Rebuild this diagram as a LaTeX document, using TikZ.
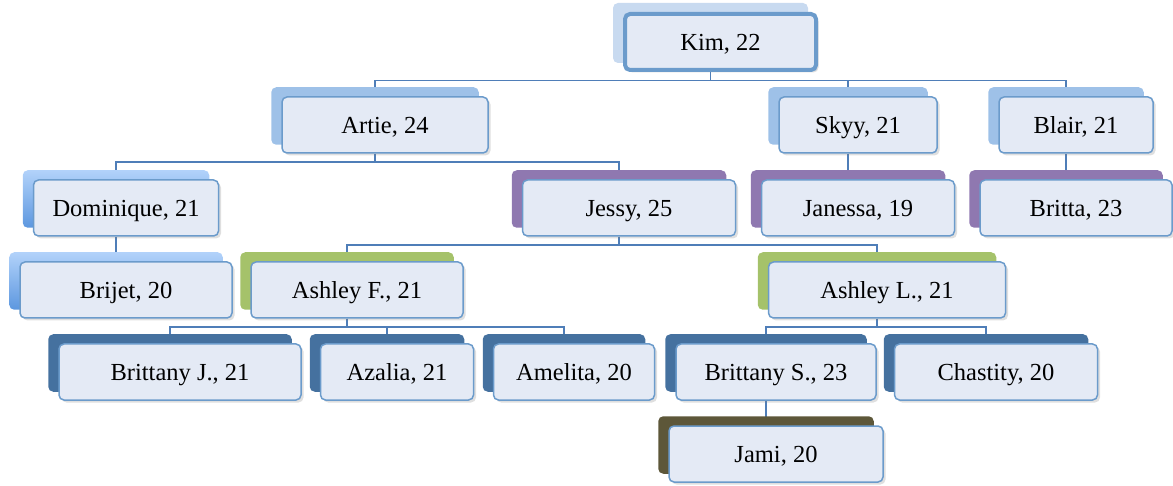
\documentclass[tikz,border=0pt]{standalone}
\usepackage{fontspec}
\setmainfont{Liberation Serif}
\usetikzlibrary{positioning, shadows, backgrounds}
\definecolor{boxfill}{HTML}{E4EAF5}
\definecolor{boxline}{HTML}{6B9BCB}
\definecolor{connline}{HTML}{4F7EB8}
\definecolor{kimback}{HTML}{C8DAF0}
\definecolor{lvlone}{HTML}{9EC1E8}
\definecolor{domtop}{HTML}{B2D2FA}
\definecolor{dombottom}{HTML}{5C97DF}
\definecolor{lvlpurple}{HTML}{8F78B0}
\definecolor{lvlgreen}{HTML}{A5C26A}
\definecolor{lvldark}{HTML}{45719F}
\definecolor{lvlolive}{HTML}{5D5739}
\tikzset{
    person/.style={
        draw=boxline, line width=1.5pt,
        fill=boxfill,
        rounded corners=5pt,
        minimum height=56pt,
        inner sep=0pt,
        text height=18pt, text depth=1.8pt,
        font=\fontsize{24.5}{29}\selectfont,
        drop shadow={opacity=0.25, shadow xshift=2.5pt, shadow yshift=-2.5pt}
    },
    root/.style={
        person,
        line width=4pt
    },
    conn/.style={
        draw=connline, line width=1.5pt
    },
    back/.style={rounded corners=5pt},
}
\begin{document}
\begin{tikzpicture}[x=1pt, y=-1pt]
        \useasboundingbox (0,0) rectangle (1173,486);
        \node[root, minimum width=191] (kim) at (720.5,42) {Kim, 22};
        \node[person, minimum width=206] (artie) at (385,125) {Artie, 24};
        \node[person, minimum width=158] (skyy) at (858,125) {Skyy, 21};
        \node[person, minimum width=154] (blair) at (1076,125) {Blair, 21};
        \node[person, minimum width=185] (dominique) at (126,208) {Dominique, 21};
        \node[person, minimum width=213] (jessy) at (629,208) {Jessy, 25};
        \node[person, minimum width=193] (janessa) at (858,208) {Janessa, 19};
        \node[person, minimum width=192] (britta) at (1076,208) {Britta, 23};
        \node[person, minimum width=212] (brijet) at (126,290) {Brijet, 20};
        \node[person, minimum width=212] (ashleyf) at (357,290) {Ashley F., 21};
        \node[person, minimum width=237] (ashleyl) at (887,290) {Ashley L., 21};
        \node[person, minimum width=242] (brittanyj) at (180,372) {Brittany J., 21};
        \node[person, minimum width=153] (azalia) at (397,372) {Azalia, 21};
        \node[person, minimum width=161] (amelita) at (574,372) {Amelita, 20};
        \node[person, minimum width=200] (brittanys) at (776,372) {Brittany S., 23};
        \node[person, minimum width=203] (chastity) at (996,372) {Chastity, 20};
        \node[person, minimum width=214] (jami) at (776,454) {Jami, 20};

        \begin{pgfonlayer}{background}
            \foreach \p/\c in {kim/artie, kim/skyy, kim/blair, artie/dominique, artie/jessy,
                            skyy/janessa, blair/britta, dominique/brijet, jessy/ashleyf,
                            jessy/ashleyl, ashleyf/brittanyj, ashleyf/azalia, ashleyf/amelita,
                            ashleyl/brittanys, ashleyl/chastity, brittanys/jami}
                \draw[conn] ([xshift=-10pt]\p.south) -- ++(0,8.5) -| ([xshift=-10pt]\c.north);

            % coloured cards behind the boxes
            \foreach \n/\c in {kim/kimback, artie/lvlone, skyy/lvlone, blair/lvlone,
                            jessy/lvlpurple, janessa/lvlpurple, britta/lvlpurple,
                            ashleyf/lvlgreen, ashleyl/lvlgreen,
                            brittanyj/lvldark, azalia/lvldark, amelita/lvldark,
                            brittanys/lvldark, chastity/lvldark, jami/lvlolive}
                \fill[back, \c] ([shift={(-10,-9)}]\n.south west) rectangle ([shift={(-10,-9)}]\n.north east);
            \foreach \n in {dominique, brijet}
                \shade[back, top color=domtop, bottom color=dombottom]
                    ([shift={(-10,-9)}]\n.south west) rectangle ([shift={(-10,-9)}]\n.north east);
        \end{pgfonlayer}
    \end{tikzpicture}
\end{document}
